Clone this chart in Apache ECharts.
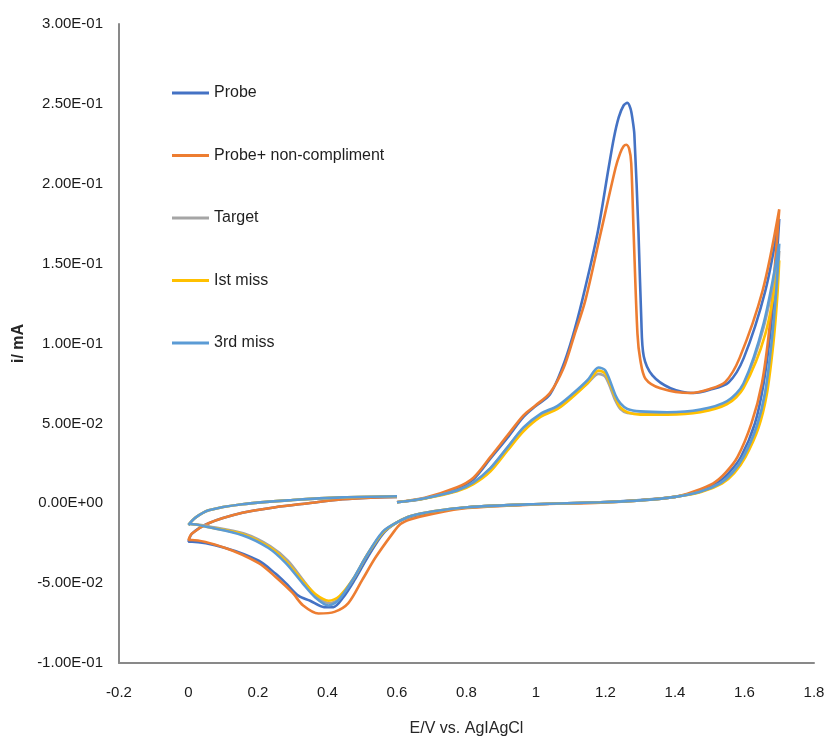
<!DOCTYPE html>
<html>
<head>
<meta charset="utf-8">
<script src="https://cdn.jsdelivr.net/npm/echarts@6/dist/echarts.min.js"></script>
<style>
  html, body { margin: 0; padding: 0; background: #fff; }
  #chart { width: 826px; height: 738px; }
</style>
</head>
<body>
<div id="chart"></div>
<script>
// Series names
const seriesNames = ['Probe', 'Probe+ non-compliment', 'Target', 'Ist miss', '3rd miss'];

// Probe
const probeE = [0.600,0.680,0.773,0.820,0.869,0.918,0.964,1.000,1.040,1.076,1.105,1.133,1.177,1.209,1.224,1.238,1.252,1.263,1.272,1.278,1.283,1.295,1.303,1.310,1.335,1.387,1.453,1.500,1.554,1.598,1.660,1.700,
  1.690,1.675,1.655,1.630,1.590,1.555,1.520,1.460,1.400,1.300,1.186,0.993,0.803,0.705,0.640,0.600,0.560,0.515,0.478,0.445,0.417,0.390,0.350,0.317,0.280,0.250,0.202,0.106,0.010,0.000,
  0.010,0.058,0.155,0.250,0.345,0.443,0.540,0.600];
const probeI = [0.0006,0.003,0.009,0.015,0.028,0.041,0.054,0.061,0.068,0.085,0.104,0.127,0.169,0.210,0.2285,0.2415,0.249,0.2506,0.247,0.240,0.231,0.169,0.115,0.092,0.080,0.072,0.069,0.071,0.0756,0.091,0.133,0.178,
  0.145,0.108,0.075,0.050,0.029,0.019,0.0125,0.007,0.004,0.002,0.0006,-0.0006,-0.0025,-0.0056,-0.0085,-0.012,-0.019,-0.034,-0.048,-0.059,-0.065,-0.065,-0.061,-0.058,-0.050,-0.044,-0.036,-0.028,-0.024,-0.024,
  -0.019,-0.0125,-0.006,-0.0025,0.0,0.0025,0.0037,0.004];

// Probe+ non-compliment
const nonCompE = [0.600,0.680,0.773,0.820,0.869,0.918,0.964,1.000,1.040,1.080,1.110,1.142,1.186,1.229,1.242,1.252,1.260,1.268,1.274,1.281,1.292,1.300,1.315,1.358,1.445,1.500,1.545,1.586,1.652,1.700,
  1.688,1.672,1.650,1.620,1.580,1.545,1.510,1.450,1.400,1.300,1.186,0.993,0.803,0.705,0.640,0.610,0.587,0.538,0.500,0.460,0.420,0.374,0.330,0.299,0.250,0.202,0.106,0.010,0.000,
  0.010,0.058,0.155,0.250,0.345,0.443,0.540,0.600];
const nonCompI = [0.0008,0.0035,0.010,0.016,0.029,0.0425,0.055,0.0615,0.069,0.085,0.105,0.127,0.169,0.210,0.219,0.2235,0.2244,0.222,0.213,0.169,0.106,0.090,0.078,0.072,0.069,0.0715,0.076,0.091,0.133,0.184,
  0.150,0.110,0.075,0.050,0.029,0.019,0.0125,0.007,0.004,0.0018,0.0004,-0.0008,-0.003,-0.0065,-0.010,-0.013,-0.019,-0.034,-0.048,-0.0625,-0.068,-0.069,-0.064,-0.056,-0.046,-0.0375,-0.028,-0.023,-0.023,
  -0.019,-0.0125,-0.006,-0.0025,0.0,0.0025,0.0037,0.004];

// Target
const targetE = [0.600,0.677,0.773,0.820,0.869,0.918,0.964,1.013,1.062,1.108,1.148,1.180,1.200,1.229,1.243,1.263,1.300,1.378,1.473,1.550,1.597,1.655,1.700,
  1.692,1.680,1.660,1.635,1.597,1.565,1.530,1.470,1.400,1.300,1.186,0.993,0.803,0.705,0.640,0.600,0.560,0.512,0.476,0.436,0.406,0.368,0.333,0.286,0.236,0.160,0.060,0.005,0.000,
  0.020,0.058,0.155,0.300,0.443,0.600];
const targetI = [0.0006,0.003,0.008,0.013,0.022,0.035,0.047,0.055,0.060,0.068,0.075,0.081,0.079,0.064,0.059,0.0565,0.056,0.056,0.058,0.063,0.074,0.110,0.158,
  0.132,0.103,0.069,0.048,0.029,0.019,0.0125,0.007,0.004,0.0018,0.0006,-0.0006,-0.0025,-0.005,-0.008,-0.012,-0.018,-0.033,-0.047,-0.059,-0.0625,-0.058,-0.049,-0.036,-0.027,-0.019,-0.0145,-0.013,-0.0135,
  -0.009,-0.0044,-0.0006,0.002,0.0037,0.0044];

// Ist miss
const firstMissE = [0.600,0.677,0.773,0.820,0.869,0.918,0.964,1.013,1.062,1.108,1.148,1.180,1.200,1.229,1.243,1.263,1.300,1.378,1.473,1.550,1.597,1.660,1.700,
  1.694,1.683,1.664,1.640,1.603,1.571,1.536,1.475,1.400,1.300,1.186,0.993,0.803,0.705,0.640,0.600,0.560,0.512,0.475,0.435,0.403,0.366,0.330,0.283,0.233,0.157,0.058,0.005,0.000,
  0.020,0.058,0.155,0.300,0.443,0.600];
const firstMissI = [0.0006,0.0028,0.0075,0.012,0.020,0.033,0.045,0.054,0.059,0.067,0.075,0.083,0.081,0.066,0.060,0.057,0.0555,0.0555,0.057,0.062,0.072,0.106,0.152,
  0.128,0.100,0.068,0.047,0.029,0.019,0.0125,0.007,0.004,0.0018,0.0006,-0.0006,-0.0025,-0.005,-0.008,-0.012,-0.018,-0.033,-0.047,-0.058,-0.061,-0.057,-0.049,-0.037,-0.0275,-0.0195,-0.015,-0.013,-0.0135,
  -0.009,-0.0044,-0.0006,0.002,0.0037,0.0044];

// 3rd miss
const thirdMissE = [0.600,0.677,0.773,0.820,0.869,0.918,0.964,1.013,1.062,1.108,1.148,1.180,1.200,1.229,1.243,1.263,1.300,1.378,1.473,1.550,1.597,1.655,1.700,
  1.692,1.680,1.660,1.635,1.597,1.565,1.530,1.470,1.400,1.300,1.186,0.993,0.803,0.705,0.640,0.600,0.558,0.509,0.472,0.432,0.403,0.365,0.328,0.280,0.230,0.155,0.058,0.005,0.000,
  0.020,0.058,0.155,0.300,0.443,0.600];
const thirdMissI = [0.0006,0.003,0.008,0.013,0.022,0.035,0.0475,0.056,0.061,0.069,0.077,0.085,0.083,0.0675,0.0625,0.059,0.0575,0.057,0.0587,0.064,0.075,0.1125,0.1625,
  0.135,0.105,0.070,0.048,0.029,0.019,0.0125,0.007,0.004,0.0018,0.0006,-0.0006,-0.0025,-0.005,-0.008,-0.012,-0.018,-0.034,-0.048,-0.0606,-0.064,-0.059,-0.050,-0.0375,-0.028,-0.020,-0.015,-0.013,-0.0135,
  -0.009,-0.0044,-0.0006,0.002,0.0037,0.0044];

// Axis ticks
const xTicks = { min: -0.2, max: 1.8, interval: 0.2 };
const yTicks = { min: -0.1, max: 0.3, interval: 0.05 };

const colors = ['#4472C4', '#ED7D31', '#A5A5A5', '#FFC000', '#5B9BD5'];
const allE = [probeE, nonCompE, targetE, firstMissE, thirdMissE];
const allI = [probeI, nonCompI, targetI, firstMissI, thirdMissI];

const FONT = '"Liberation Sans", Arial, sans-serif';

function sci(v) {
  const s = Number(v).toExponential(2);
  let [m, e] = s.split('e');
  const sign = e[0] === '-' ? '-' : '+';
  let d = e.replace(/^[+-]/, '');
  if (d.length < 2) d = '0' + d;
  return m + 'E' + sign + d;
}

const chart = echarts.init(document.getElementById('chart'), null, { renderer: 'canvas' });
const option = {
  backgroundColor: '#ffffff',
  animation: false,
  color: colors,
  grid: { left: 119, right: 12, top: 24, bottom: 75, containLabel: false, outerBoundsMode: 'none' },
  legend: {
    orient: 'vertical',
    left: 172,
    top: 84,
    padding: 0,
    icon: 'rect',
    itemWidth: 37,
    itemHeight: 3,
    itemGap: 44.5,
    data: seriesNames,
    textStyle: { fontFamily: FONT, fontSize: 16, color: '#1f1f1f', lineHeight: 18 }
  },
  xAxis: {
    type: 'value',
    min: xTicks.min, max: xTicks.max, interval: xTicks.interval,
    name: 'E/V vs. AgIAgCl',
    nameLocation: 'middle',
    nameGap: 58,
    nameTextStyle: { fontFamily: FONT, fontSize: 16, color: '#262626' },
    axisLine: { onZero: false, lineStyle: { color: '#898989', width: 2 } },
    axisTick: { show: false },
    splitLine: { show: false },
    axisLabel: { fontFamily: FONT, fontSize: 15, color: '#1a1a1a', margin: 22,
      formatter: v => String(Math.round(v * 10) / 10) }
  },
  yAxis: {
    type: 'value',
    min: yTicks.min, max: yTicks.max, interval: yTicks.interval,
    name: 'i/ mA',
    nameLocation: 'middle',
    nameGap: 86,
    nameTextStyle: { fontFamily: FONT, fontSize: 16, fontWeight: 'bold', color: '#262626' },
    axisLine: { onZero: false, lineStyle: { color: '#898989', width: 2 } },
    axisTick: { show: false },
    splitLine: { show: false },
    axisLabel: { fontFamily: FONT, fontSize: 15, color: '#1a1a1a', margin: 16, formatter: sci }
  },
  series: seriesNames.map((name, k) => ({
    name,
    type: 'line',
    symbol: 'none',
    smooth: 0.3,
    clip: false,
    lineStyle: { width: 2.6, color: colors[k] },
    itemStyle: { color: colors[k] },
    data: allE[k].map((e, j) => [e, allI[k][j]])
  }))
};
chart.setOption(option);
</script>
</body>
</html>
